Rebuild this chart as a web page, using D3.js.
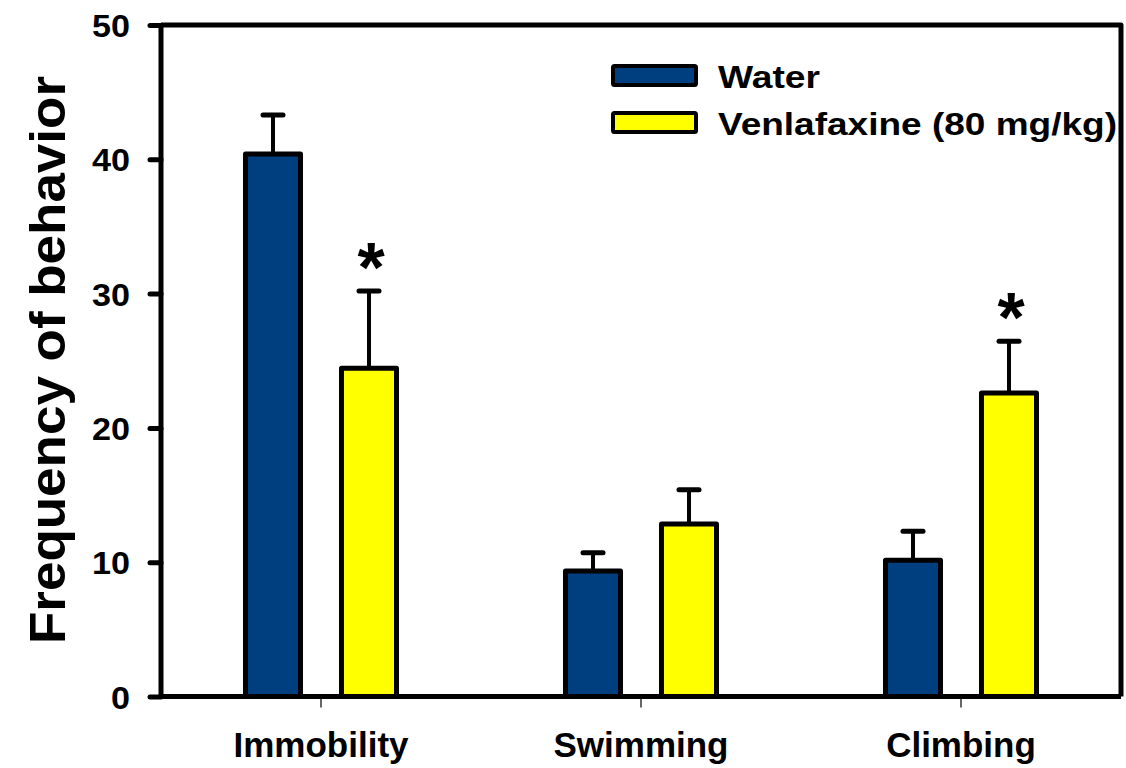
<!DOCTYPE html>
<html>
<head>
<meta charset="utf-8">
<script src="https://cdn.jsdelivr.net/npm/d3@7"></script>
<style>
  html, body { margin: 0; padding: 0; background: #fff; }
  svg { display: block; }
  text { font-family: "Liberation Sans", Arial, Helvetica, sans-serif; font-weight: bold; fill: #000; }
</style>
</head>
<body>
<svg id="chart" width="1126" height="768"></svg>
<script>
const categories = ["Immobility", "Swimming", "Climbing"];
const seriesNames = ["Water", "Venlafaxine (80 mg/kg)"];
const waterValues = [40.4, 9.35, 10.15];
const waterErrors = [2.9, 1.35, 2.15];
const venlaValues = [24.45, 12.85, 22.6];
const venlaErrors = [5.75, 2.55, 3.85];
const significant = [[false, true], [false, false], [false, true]];
const yTicks = [0, 10, 20, 30, 40, 50];
const seriesColors = ["#003f7f", "#ffff00"];

const svg = d3.select("#chart");
const pLeft = 161, pRight = 1121, pTop = 25, pBottom = 696.5;

const y = d3.scaleLinear().domain([0, 50]).range([pBottom, pTop]);
const x0 = d3.scaleBand().domain(categories).range([pLeft, pRight]).padding(0);
const x1 = d3.scaleBand().domain(seriesNames).range([-96, 96]).padding(0);
const barW = 55;

const data = [];
categories.forEach((c, i) => {
  data.push({cat: c, s: seriesNames[0], v: waterValues[i], e: waterErrors[i], sig: significant[i][0], col: seriesColors[0]});
  data.push({cat: c, s: seriesNames[1], v: venlaValues[i], e: venlaErrors[i], sig: significant[i][1], col: seriesColors[1]});
});
const cx = d => x0(d.cat) + x0.bandwidth() / 2 + x1(d.s) + x1.bandwidth() / 2;

// error bars
const eb = svg.append("g");
eb.selectAll("line.v").data(data).join("line")
  .attr("x1", cx).attr("x2", cx)
  .attr("y1", d => y(d.v)).attr("y2", d => y(d.v + d.e))
  .attr("stroke", "#000").attr("stroke-width", 4);
eb.selectAll("line.c").data(data).join("line")
  .attr("x1", d => cx(d) - 10).attr("x2", d => cx(d) + 10)
  .attr("y1", d => y(d.v + d.e)).attr("y2", d => y(d.v + d.e))
  .attr("stroke", "#000").attr("stroke-width", 5).attr("stroke-linecap", "round");

// bars
svg.append("g").selectAll("rect").data(data).join("rect")
  .attr("x", d => cx(d) - barW / 2)
  .attr("width", barW)
  .attr("y", d => y(d.v))
  .attr("height", d => y(0) - y(d.v))
  .attr("fill", d => d.col)
  .attr("stroke", "#000").attr("stroke-width", 5).attr("stroke-linejoin", "round");

// asterisks
svg.append("g").selectAll("text").data(data.filter(d => d.sig)).join("text")
  .attr("x", d => cx(d) + 2)
  .attr("y", d => y(d.v + d.e) + 1)
  .attr("text-anchor", "middle")
  .style("font-size", "70px")
  .text("*");

// frame (top and right)
svg.append("path")
  .attr("d", `M${pLeft},${pTop}H${pRight}V${pBottom}`)
  .attr("fill", "none").attr("stroke", "#000").attr("stroke-width", 5).attr("stroke-linejoin", "round");

// y axis
const yAxis = svg.append("g").attr("transform", `translate(${pLeft},0)`)
  .call(d3.axisLeft(y).tickValues(yTicks).tickSize(11).tickPadding(20).tickFormat(d3.format("d")));
yAxis.select(".domain").attr("stroke", "#000").attr("stroke-width", 5).attr("d", `M0,${pTop}V${pBottom}`);
yAxis.selectAll(".tick line").attr("stroke", "#000").attr("stroke-width", 5).attr("stroke-linecap", "round");
yAxis.selectAll(".tick text").style("font-size", "32px").style("font-family", "'Liberation Sans', Arial, sans-serif").style("font-weight", "bold")
  .attr("dy", "0.36em").attr("textLength", d => String(d).length === 1 ? 19 : 38).attr("lengthAdjust", "spacingAndGlyphs");

// x axis
const xAxis = svg.append("g").attr("transform", `translate(0,${pBottom})`)
  .call(d3.axisBottom(x0).tickSize(11).tickPadding(25));
xAxis.select(".domain").attr("stroke", "#000").attr("stroke-width", 5).attr("d", `M${pLeft},0H${pRight}`);
xAxis.selectAll(".tick line").attr("stroke", "#000").attr("stroke-width", 1.2);
xAxis.selectAll(".tick text").style("font-size", "35px").style("font-family", "'Liberation Sans', Arial, sans-serif").style("font-weight", "bold")
  .attr("dy", "0.71em");

// y title
svg.append("text")
  .attr("transform", `translate(65,360) rotate(-90)`)
  .attr("text-anchor", "middle")
  .style("font-size", "50px")
  .attr("textLength", 568).attr("lengthAdjust", "spacingAndGlyphs")
  .text("Frequency of behavior");

// legend
const legendWidths = [102, 399];
const legend = svg.append("g");
seriesNames.forEach((s, i) => {
  const ly = 64 + i * 47;
  legend.append("rect").attr("x", 613).attr("y", ly + 2).attr("width", 83).attr("height", 19)
    .attr("fill", seriesColors[i]).attr("stroke", "#000").attr("stroke-width", 4).attr("rx", 1.5);
  legend.append("text").attr("x", 718).attr("y", ly + 24).style("font-size", "32px")
    .attr("textLength", legendWidths[i]).attr("lengthAdjust", "spacingAndGlyphs").text(s);
});
</script>
</body>
</html>
